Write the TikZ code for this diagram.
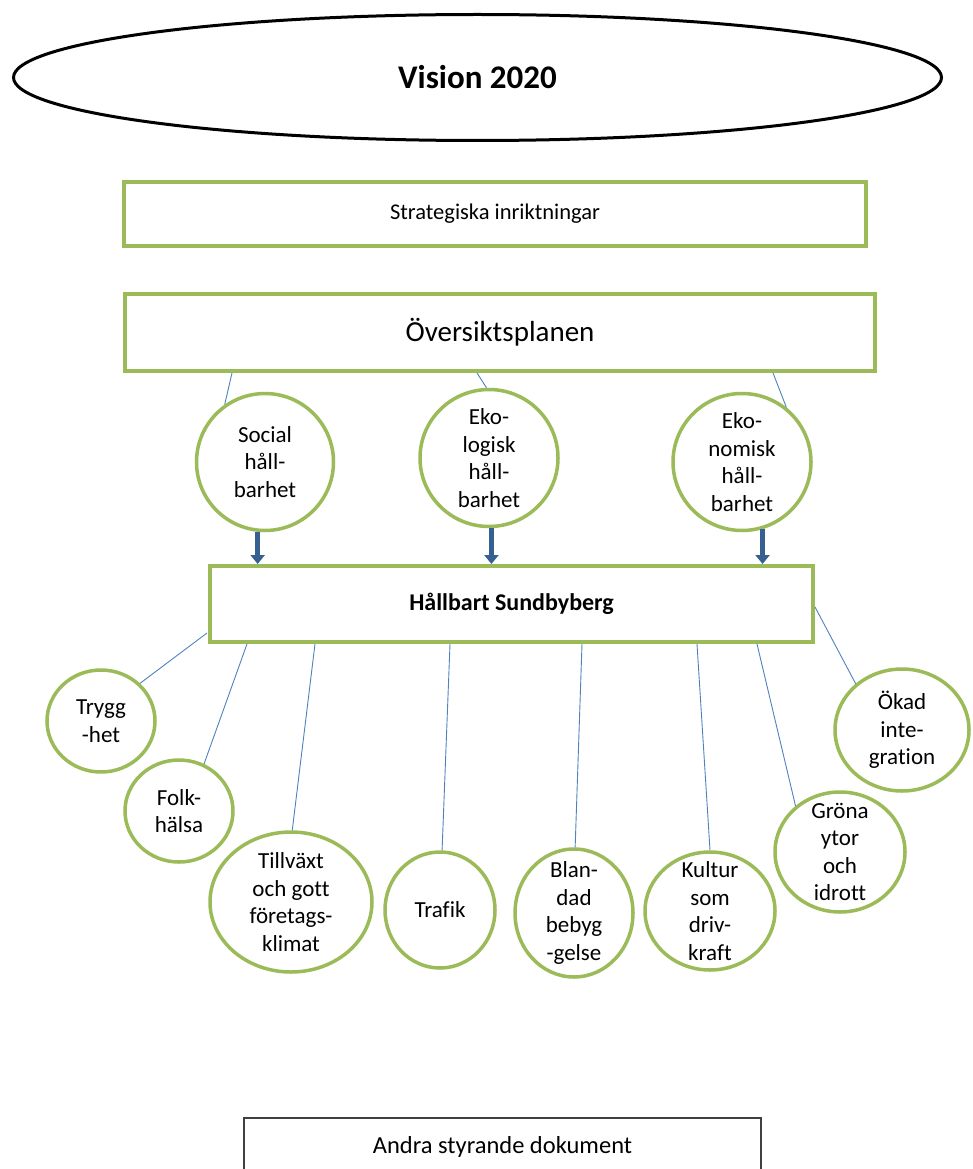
\documentclass[tikz,border=0pt]{standalone}
\usepackage{fontspec}
\setmainfont{Carlito}[Ligatures=CommonOff]
\usetikzlibrary{shapes.geometric,arrows.meta}
\definecolor{ogreen}{RGB}{155,187,89}
\definecolor{lblue}{RGB}{79,129,189}
\definecolor{ablue}{RGB}{55,96,146}
\tikzset{
  gbox/.style={draw=ogreen, line width=4pt, rectangle, inner sep=0pt, fill=white},
  gcirc/.style={draw=ogreen, line width=3.5pt, ellipse, inner sep=0pt, fill=white},
  ctext/.style={align=center, inner sep=0pt, font=\fontsize{23}{27.5}\selectfont},
  conn/.style={draw=lblue, line width=0.9pt},
  bigarrow/.style={draw=ablue, line width=5.5pt, -{Triangle[width=14pt,length=9pt]}},
}
\begin{document}
\begin{tikzpicture}[x=1pt,y=-1pt]
\useasboundingbox (0,0) rectangle (972,1169);
\clip (0,0) rectangle (972,1169);

\node[ellipse, draw=black, line width=3pt, minimum width=928pt, minimum height=126pt, inner sep=0pt,
      font=\bfseries\fontsize{33}{40}\selectfont] (vis) at (477.5,77.5) {Vision 2020};

\node[gbox, minimum width=742pt, minimum height=64pt, font=\fontsize{22.5}{26}\selectfont] (strat) at (495,214) {Strategiska inriktningar};
\node[gbox, minimum width=750pt, minimum height=77pt, font=\fontsize{29}{34}\selectfont] (osp) at (500,332.5) {Översiktsplanen};
\node[gbox, minimum width=603pt, minimum height=76pt, font=\bfseries\fontsize{24}{29}\selectfont] (hs) at (511.5,604) {Hållbart Sundbyberg};

% top circles
\node[gcirc, minimum width=137pt, minimum height=137pt, label={[ctext]center:{Social\\håll-\\barhet}}] (soc) at (265,462) {};
\node[gcirc, minimum width=138pt, minimum height=137pt, label={[ctext]center:{Eko-\\logisk\\håll-\\barhet}}] (eko) at (489,458) {};
\node[gcirc, minimum width=138pt, minimum height=137pt, label={[ctext]center:{Eko-\\nomisk\\håll-\\barhet}}] (ekn) at (742,462) {};

% bottom circles
\node[gcirc, minimum width=108pt, minimum height=102pt, label={[ctext]center:{Trygg\\-het}}] (tryg) at (101,721) {};
\node[gcirc, minimum width=108pt, minimum height=102pt, label={[ctext]center:{Folk-\\hälsa}}] (folk) at (179,811) {};
\node[gcirc, minimum width=162pt, minimum height=140pt, label={[ctext]center:{Tillväxt\\och gott\\företags-\\klimat}}] (till) at (291,902) {};
\node[gcirc, minimum width=110pt, minimum height=116pt, label={[ctext]center:{Trafik}}] (traf) at (440,910) {};
\node[gcirc, minimum width=118pt, minimum height=128pt, label={[ctext]center:{Blan-\\dad\\bebyg\\-gelse}}] (blan) at (574,913) {};
\node[gcirc, minimum width=130pt, minimum height=118pt, label={[ctext]center:{Kultur\\som\\driv-\\kraft}}] (kult) at (710,911) {};
\node[gcirc, minimum width=130pt, minimum height=120pt, label={[ctext]center:{Gröna\\ytor\\och\\idrott}}] (gron) at (840,852) {};
\node[gcirc, minimum width=134pt, minimum height=122pt, label={[ctext]center:{Ökad\\inte-\\gration}}] (okad) at (902,730) {};

% bottom box
\node[draw=black!75, line width=1.3pt, rectangle, inner sep=0pt, minimum width=517pt, minimum height=58pt,
      font=\fontsize{24.5}{29}\selectfont] (andra) at (502.5,1147) {Andra styrande dokument};

% connector end points on the boxes
\coordinate (o1) at (232,373);
\coordinate (o2) at (477,373);
\coordinate (o3) at (773,373);
\coordinate (b1) at (207,633);
\coordinate (b2) at (247,644);
\coordinate (b3) at (315,644);
\coordinate (b4) at (450,644);
\coordinate (b5) at (582,644);
\coordinate (b6) at (697,644);
\coordinate (b7) at (757,644);
\coordinate (b8) at (815,607);

\draw[conn] (o1) -- (soc.125);
\draw[conn] (o2) -- (eko.92);
\draw[conn] (o3) -- (ekn.51);

\draw[conn] (b1) -- (tryg.44);
\draw[conn] (b2) -- (folk.62);
\draw[conn] (b3) -- (till.89);
\draw[conn] (b4) -- (traf.88);
\draw[conn] (b5) -- (blan.89);
\draw[conn] (b6) -- (kult.90);
\draw[conn] (b7) -- (gron.134);
\draw[conn] (b8) -- (okad.135);

% arrows
\draw[bigarrow] (soc.264) -- (soc.264 |- hs.north);
\draw[bigarrow] (eko.272) -- (eko.272 |- hs.north);
\draw[bigarrow] (ekn.287) -- (ekn.287 |- hs.north);
\end{tikzpicture}
\end{document}
